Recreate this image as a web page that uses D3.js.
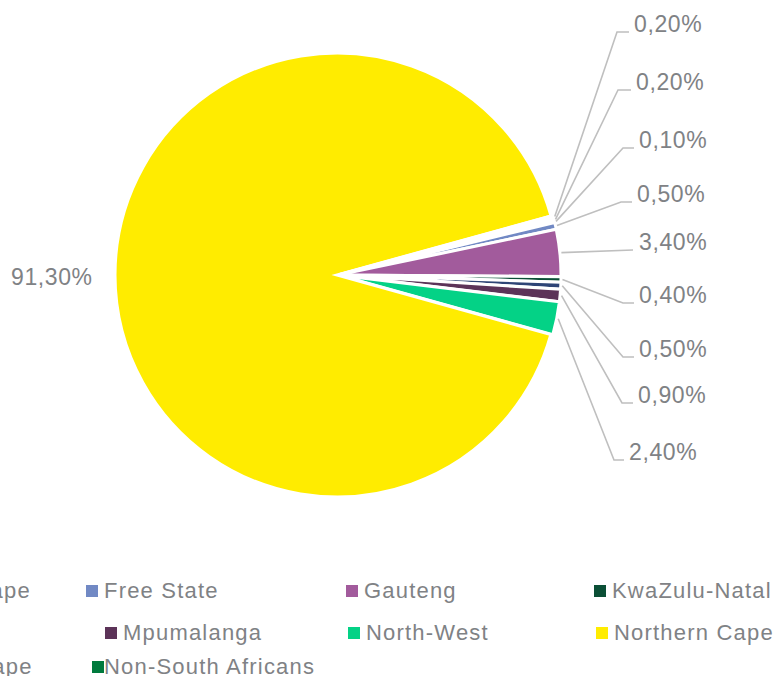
<!DOCTYPE html>
<html>
<head>
<meta charset="utf-8">
<script src="https://cdn.jsdelivr.net/npm/d3@7"></script>
<style>
  html, body { margin: 0; padding: 0; background: #fff; }
  svg { display: block; }
</style>
</head>
<body>
<svg id="chart" width="775" height="676"></svg>
<script>
// ---- data ----
const categories = ["Eastern Cape", "Free State", "Gauteng", "KwaZulu-Natal", "Limpopo",
                    "Mpumalanga", "North-West", "Northern Cape", "Western Cape", "Non-South Africans"];
const values = [0.1, 0.5, 3.4, 0.4, 0.5, 0.9, 2.4, 91.3, 0.2, 0.2];
const labels = ["0,10%", "0,50%", "3,40%", "0,40%", "0,50%", "0,90%", "2,40%", "91,30%", "0,20%", "0,20%"];
const colors = ["#3E6FB0", "#7189C4", "#A25B9C", "#0B4F36", "#2E4576",
                "#5C3358", "#04D286", "#FFEC00", "#C0504D", "#007A3D"];

// label layout (text start x, baseline y, elbow x) in Excel-like placement
const labelLayout = {
  "Western Cape":       { tx: 634, ty: 32,  ex: 617 },
  "Non-South Africans": { tx: 636, ty: 90,  ex: 618 },
  "Eastern Cape":       { tx: 639, ty: 148, ex: 623 },
  "Free State":         { tx: 637, ty: 202, ex: 621 },
  "Gauteng":            { tx: 639, ty: 250, ex: null },
  "KwaZulu-Natal":      { tx: 639, ty: 303, ex: 623 },
  "Limpopo":            { tx: 639, ty: 357, ex: 623 },
  "Mpumalanga":         { tx: 638, ty: 403, ex: 622 },
  "North-West":         { tx: 629, ty: 460, ex: 614 },
  "Northern Cape":      { tx: 11,  ty: 285, ex: null, noLine: true }
};

const svg = d3.select("#chart");
const cx = 338, cy = 275, R = 222, explode = 1;
const deg = Math.PI / 180;
const start = 76 * deg;

const data = categories.map((c, i) => ({ name: c, value: values[i], label: labels[i], color: colors[i] }));

const pie = d3.pie().sort(null).value(d => d.value)
  .startAngle(start).endAngle(start + 2 * Math.PI);
const arcs = pie(data);
const arc = d3.arc().innerRadius(0).outerRadius(R);
const outer = d3.arc().innerRadius(R).outerRadius(R);

const g = svg.append("g").attr("transform", `translate(${cx},${cy})`);

g.selectAll("path.slice")
  .data(arcs)
  .join("path")
  .attr("class", "slice")
  .attr("d", arc)
  .attr("fill", d => d.data.color)
  .attr("stroke", "#fff")
  .attr("stroke-width", 3)
  .attr("stroke-linejoin", "miter")
  .attr("transform", d => {
    const m = (d.startAngle + d.endAngle) / 2;
    return `translate(${explode * Math.sin(m)},${-explode * Math.cos(m)})`;
  });

// leader lines and labels
const lab = svg.append("g");
arcs.forEach(d => {
  const L = labelLayout[d.data.name];
  const m = (d.startAngle + d.endAngle) / 2;
  const p = outer.centroid(d);
  const sx = cx + p[0] + (explode + 1.5) * Math.sin(m);
  const sy = cy + p[1] - (explode + 1.5) * Math.cos(m);
  if (!L.noLine) {
    let pts;
    if (L.ex === null) {
      pts = [[sx, sy], [L.tx - 6, L.ty]];
    } else {
      pts = [[sx, sy], [L.ex, L.ty], [L.tx - 5, L.ty]];
    }
    lab.append("path")
      .attr("d", d3.line()(pts))
      .attr("fill", "none")
      .attr("stroke", "#BFBFBF")
      .attr("stroke-width", 1.6);
  }
  lab.append("text")
    .attr("x", L.tx)
    .attr("y", L.ty)
    .attr("font-family", "Liberation Sans, Arial, sans-serif")
    .attr("font-size", 23)
    .attr("letter-spacing", 0.6)
    .attr("fill", "#7F8285")
    .text(d.data.label);
});

// legend
const legendRows = [
  ["Eastern Cape", "Free State", "Gauteng", "KwaZulu-Natal"],
  ["Limpopo", "Mpumalanga", "North-West", "Northern Cape"],
  ["Western Cape", "Non-South Africans"]
];
const rowLayout = [
  { y: 598, xs: [-136, 86, 346, 594], gap: 18 },
  { y: 640, xs: [-125, 105, 348, 596], gap: 18 },
  { y: 674, xs: [-134, 92], gap: 12 }
];
const leg = svg.append("g");
legendRows.forEach((row, ri) => {
  const RL = rowLayout[ri];
  row.forEach((name, ci) => {
    const i = categories.indexOf(name);
    const x = RL.xs[ci];
    leg.append("rect")
      .attr("x", x).attr("y", RL.y - 13)
      .attr("width", 12).attr("height", 12)
      .attr("fill", colors[i]);
    leg.append("text")
      .attr("x", x + RL.gap)
      .attr("y", RL.y)
      .attr("font-family", "Liberation Sans, Arial, sans-serif")
      .attr("font-size", 22)
      .attr("letter-spacing", 1.2)
      .attr("fill", "#7F8285")
      .text(name);
  });
});
</script>
</body>
</html>
